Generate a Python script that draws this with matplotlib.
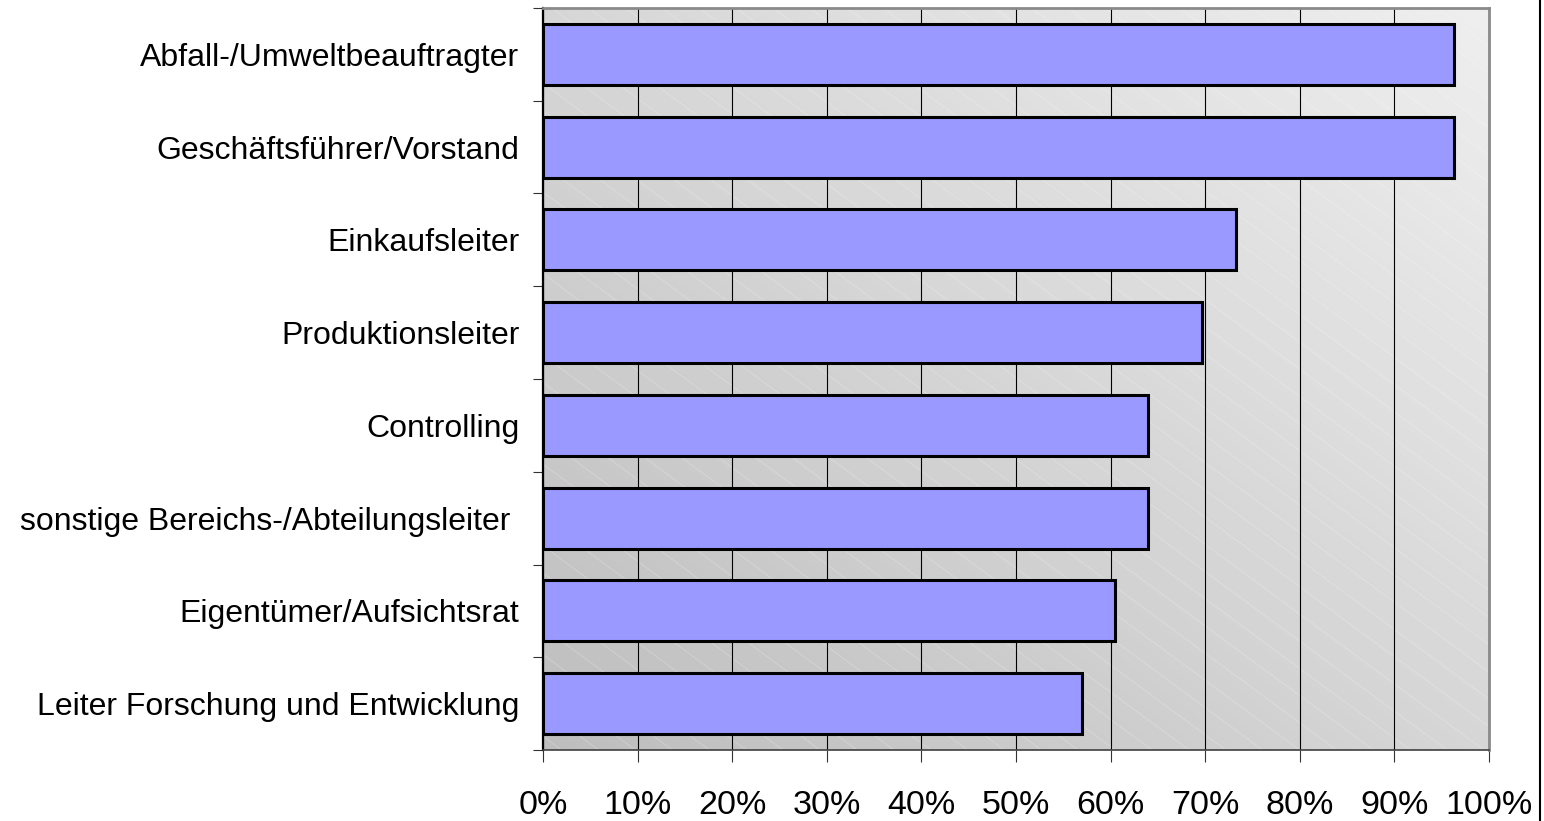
import numpy as np
import matplotlib
matplotlib.use("Agg")
import matplotlib.pyplot as plt
from matplotlib.lines import Line2D
from matplotlib.ticker import FixedLocator

plt.rcParams['font.family'] = ['Liberation Sans', 'DejaVu Sans']

categories = [
    "Abfall-/Umweltbeauftragter",
    "Geschäftsführer/Vorstand",
    "Einkaufsleiter",
    "Produktionsleiter",
    "Controlling",
    "sonstige Bereichs-/Abteilungsleiter ",
    "Eigentümer/Aufsichtsrat",
    "Leiter Forschung und Entwicklung",
]
values = [96.3, 96.3, 73.3, 69.7, 64.0, 64.0, 60.5, 57.0]
x_ticks = list(range(0, 101, 10))
x_labels = [f"{v}%" for v in x_ticks]

fig = plt.figure(figsize=(15.44, 8.21), dpi=100)
ax = fig.add_axes([543/1544, 1-750/821, (1489-543)/1544, (750-8)/821])

n = len(categories)
ypos = np.arange(n)[::-1]

# background gradient
gx, gy = np.meshgrid(np.linspace(0, 1, 300), np.linspace(0, 1, 300))
t = (gx + gy) / 2
lo, hi = 0xBE / 255, 0xEF / 255
g = lo + t * (hi - lo)
img = np.dstack([g, g, g])
ax.imshow(img, extent=(0, 100, -0.5, n - 0.5), origin='lower', aspect='auto', zorder=0)

# faint diagonal texture
slope = -0.94
for x0 in np.arange(-1.2, 1.2, 0.039):
    ax.plot([x0, x0 + 1.2], [1, 1 + slope * 1.2], transform=ax.transAxes,
            color='white', lw=0.6, alpha=0.25, zorder=0.5, clip_on=True)

ax.set_xlim(0, 100)
ax.set_ylim(-0.5, n - 0.5)

ax.set_xticks(x_ticks)
ax.set_xticklabels(x_labels, fontsize=24.5)
ax.grid(axis='x', color='black', lw=0.8, zorder=1)
ax.set_axisbelow(True)

ax.barh(ypos, values, height=0.66, color='#9999FF', edgecolor='black', lw=2.2, zorder=3)

ax.set_yticks(ypos)
ax.set_yticklabels(categories, fontsize=23)
ax.yaxis.set_minor_locator(FixedLocator(np.arange(-0.5, n, 1.0)))
ax.tick_params(axis='y', which='major', length=0, pad=17)
ax.tick_params(axis='y', which='minor', length=7.2, width=0.8, color='#333333')
ax.tick_params(axis='x', which='major', length=8.6, width=0.8, color='#333333', pad=20)

for s in ['top', 'right']:
    ax.spines[s].set_color('#8a8a8a')
    ax.spines[s].set_linewidth(2)
ax.spines['left'].set_color('black')
ax.spines['left'].set_linewidth(1.6)
ax.spines['bottom'].set_color('#404040')
ax.spines['bottom'].set_linewidth(1.2)

fig.add_artist(Line2D([1540/1544]*2, [0, 1], transform=fig.transFigure, color='black', lw=1.5))

fig.savefig("out.png", dpi=100)
